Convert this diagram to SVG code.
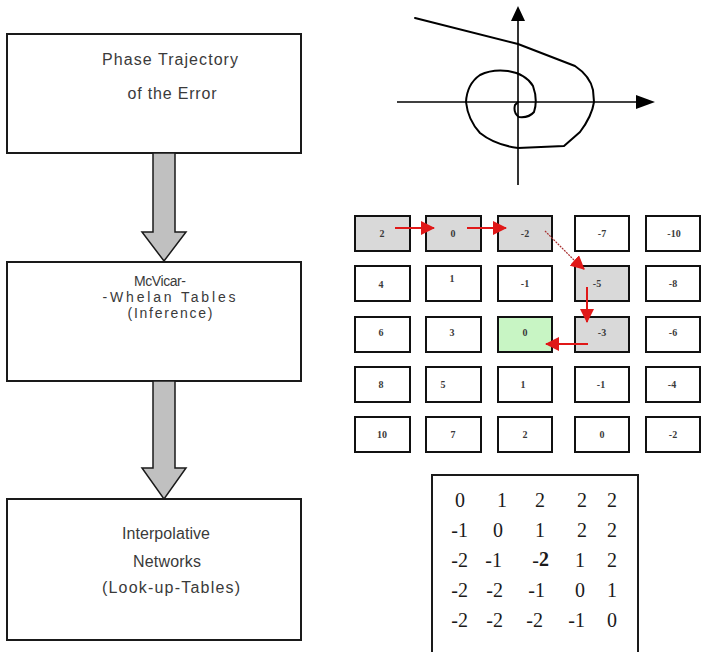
<svg xmlns="http://www.w3.org/2000/svg" width="702" height="652" viewBox="0 0 702 652">
  <style>
    .box { fill: #ffffff; stroke: #1a1a1a; stroke-width: 2; }
    .lbl { font-family: "Liberation Sans", Arial, sans-serif; font-size: 16px; fill: #3a3a3a; text-anchor: middle; }
    .lbl.tight { font-size: 14px; }
    .cell { fill: #ffffff; stroke: #111111; stroke-width: 2; }
    .cell.hit { fill: #d9d9d9; }
    .cell.goal { fill: #c8f5c4; }
    .cv { font-family: "Liberation Serif", "Times New Roman", serif; font-size: 10px; font-weight: bold; fill: #3a3a3a; text-anchor: middle; }
    .mx { font-family: "Liberation Serif", "Times New Roman", serif; font-size: 20px; fill: #1a1a1a; text-anchor: end; }
    .flow { fill: #c0c0c0; stroke: #1a1a1a; stroke-width: 1.5; stroke-linejoin: miter; }
    .step { stroke: #e01818; stroke-width: 2; fill: none; marker-end: url(#redhead); }
    .axis { stroke: #000; stroke-width: 1.6; fill: none; }
    .traj { stroke: #000; stroke-width: 2; fill: none; stroke-linejoin: round; stroke-linecap: round; }
  </style>
  <defs>
    <marker id="redhead" markerUnits="userSpaceOnUse" markerWidth="14" markerHeight="14" viewBox="0 0 14 14" refX="13" refY="7" orient="auto">
      <path d="M0,0 L14,7 L0,14 z" fill="#e01818"/>
    </marker>
  </defs>

  <rect width="702" height="652" fill="#ffffff"/>

  <!-- processing chain on the left -->
  <g id="phase-trajectory">
    <rect class="box" x="7" y="34" width="294" height="119"/>
    <text class="lbl" x="170" y="65" textLength="136" lengthAdjust="spacing">Phase Trajectory</text>
    <text class="lbl" x="172" y="99" textLength="89" lengthAdjust="spacing">of the Error</text>
  </g>
  <g id="mcvicar-whelan">
    <rect class="box" x="7" y="262" width="294" height="119"/>
    <text class="lbl tight" x="160" y="286" textLength="52" lengthAdjust="spacing">McVicar-</text>
    <text class="lbl tight" x="169" y="302" textLength="133" lengthAdjust="spacing">-Whelan Tables</text>
    <text class="lbl tight" x="170" y="318" textLength="85" lengthAdjust="spacing">(Inference)</text>
  </g>
  <g id="interpolative-networks">
    <rect class="box" x="7" y="499" width="294" height="141"/>
    <text class="lbl" x="166" y="539" textLength="88" lengthAdjust="spacing">Interpolative</text>
    <text class="lbl" x="167" y="567" textLength="68" lengthAdjust="spacing">Networks</text>
    <text class="lbl" x="171" y="593" textLength="138" lengthAdjust="spacing">(Look-up-Tables)</text>
  </g>

  <!-- phase plane sketch -->
  <g id="phase-plane">
    <line class="axis" x1="518" y1="18" x2="518" y2="185"/>
    <polygon points="518,6 511,21 525,21" fill="#000"/>
    <line class="axis" x1="397" y1="102" x2="638" y2="102"/>
    <polygon points="655,102 636,95 636,109" fill="#000"/>
    <path class="traj" d="M415,18 L518,44 L575,66 Q590,76 593,90 L594,102 Q592,116 580,132 L564,146 L518,148 Q495,145 480,133 Q468,120 466,102 Q467,84 480,75 Q492,69 508,71 Q526,74 533,86 Q538,100 534,112 Q529,118 519,117 Q513,113 515,105 L518,102"/>
  </g>

  <!-- rule table -->
  <g id="rule-table">
    <g id="c11"><rect class="cell hit" x="355" y="216" width="55" height="35"/><text class="cv" x="382" y="237">2</text></g>
    <g id="c12"><rect class="cell hit" x="426" y="216" width="55" height="35"/><text class="cv" x="453" y="237">0</text></g>
    <g id="c13"><rect class="cell hit" x="498" y="216" width="54" height="35"/><text class="cv" x="525" y="237">-2</text></g>
    <g id="c14"><rect class="cell" x="575" y="216" width="54" height="35"/><text class="cv" x="602" y="237">-7</text></g>
    <g id="c15"><rect class="cell" x="646" y="216" width="54" height="35"/><text class="cv" x="674" y="237">-10</text></g>

    <g id="c21"><rect class="cell" x="355" y="266" width="55" height="35"/><text class="cv" x="381" y="288">4</text></g>
    <g id="c22"><rect class="cell" x="426" y="266" width="55" height="35"/><text class="cv" x="452" y="282">1</text></g>
    <g id="c23"><rect class="cell" x="498" y="266" width="54" height="35"/><text class="cv" x="525" y="287">-1</text></g>
    <g id="c24"><rect class="cell hit" x="575" y="266" width="54" height="35"/><text class="cv" x="597" y="287">-5</text></g>
    <g id="c25"><rect class="cell" x="646" y="266" width="54" height="35"/><text class="cv" x="673" y="287">-8</text></g>

    <g id="c31"><rect class="cell" x="355" y="317" width="55" height="35"/><text class="cv" x="381" y="336">6</text></g>
    <g id="c32"><rect class="cell" x="426" y="317" width="55" height="35"/><text class="cv" x="452" y="336">3</text></g>
    <g id="c33"><rect class="cell goal" x="498" y="317" width="54" height="35"/><text class="cv" x="525" y="336">0</text></g>
    <g id="c34"><rect class="cell hit" x="575" y="317" width="54" height="35"/><text class="cv" x="602" y="336">-3</text></g>
    <g id="c35"><rect class="cell" x="646" y="317" width="54" height="35"/><text class="cv" x="673" y="336">-6</text></g>

    <g id="c41"><rect class="cell" x="355" y="367" width="55" height="35"/><text class="cv" x="381" y="388">8</text></g>
    <g id="c42"><rect class="cell" x="426" y="367" width="55" height="35"/><text class="cv" x="443" y="388">5</text></g>
    <g id="c43"><rect class="cell" x="498" y="367" width="54" height="35"/><text class="cv" x="523" y="388">1</text></g>
    <g id="c44"><rect class="cell" x="575" y="367" width="54" height="35"/><text class="cv" x="601" y="388">-1</text></g>
    <g id="c45"><rect class="cell" x="646" y="367" width="54" height="35"/><text class="cv" x="672" y="388">-4</text></g>

    <g id="c51"><rect class="cell" x="355" y="417" width="55" height="35"/><text class="cv" x="382" y="438">10</text></g>
    <g id="c52"><rect class="cell" x="426" y="417" width="55" height="35"/><text class="cv" x="453" y="438">7</text></g>
    <g id="c53"><rect class="cell" x="498" y="417" width="54" height="35"/><text class="cv" x="525" y="438">2</text></g>
    <g id="c54"><rect class="cell" x="575" y="417" width="54" height="35"/><text class="cv" x="602" y="438">0</text></g>
    <g id="c55"><rect class="cell" x="646" y="417" width="54" height="35"/><text class="cv" x="673" y="438">-2</text></g>
  </g>

  <!-- resulting matrix -->
  <g id="result-matrix">
    <rect class="box" x="432" y="475" width="206" height="190"/>
    <text class="mx" y="507"><tspan x="465">0</tspan><tspan x="507">1</tspan><tspan x="545">2</tspan><tspan x="587">2</tspan><tspan x="617">2</tspan></text>
    <text class="mx" y="537"><tspan x="468">-1</tspan><tspan x="503">0</tspan><tspan x="545">1</tspan><tspan x="587">2</tspan><tspan x="617">2</tspan></text>
    <text class="mx" y="567"><tspan x="468">-2</tspan><tspan x="502">-1</tspan><tspan x="549">-<tspan font-weight="bold" dy="-1">2</tspan></tspan><tspan x="585" dy="1">1</tspan><tspan x="617">2</tspan></text>
    <text class="mx" y="597"><tspan x="468">-2</tspan><tspan x="503">-2</tspan><tspan x="545">-1</tspan><tspan x="585">0</tspan><tspan x="617">1</tspan></text>
    <text class="mx" y="627"><tspan x="468">-2</tspan><tspan x="503">-2</tspan><tspan x="543">-2</tspan><tspan x="585">-1</tspan><tspan x="617">0</tspan></text>
  </g>

  <!-- connectors -->
  <g id="connectors">
    <polygon class="flow" points="153,153 175,153 175,232 186,232 164,261 142,232 153,232"/>
    <polygon class="flow" points="153,381 175,381 175,468 186,468 164,499 142,468 153,468"/>
    <line class="step" x1="395" y1="228" x2="434" y2="228"/>
    <line class="step" x1="467" y1="228" x2="506" y2="228"/>
    <line x1="545" y1="231" x2="575" y2="261" stroke="#a83030" stroke-width="1.2" stroke-dasharray="2 1"/>
    <line class="step" x1="575" y1="261" x2="584" y2="269" stroke-width="1"/>
    <line class="step" x1="587" y1="287" x2="587" y2="322"/>
    <line class="step" x1="588" y1="344" x2="546" y2="344"/>
  </g>
</svg>
